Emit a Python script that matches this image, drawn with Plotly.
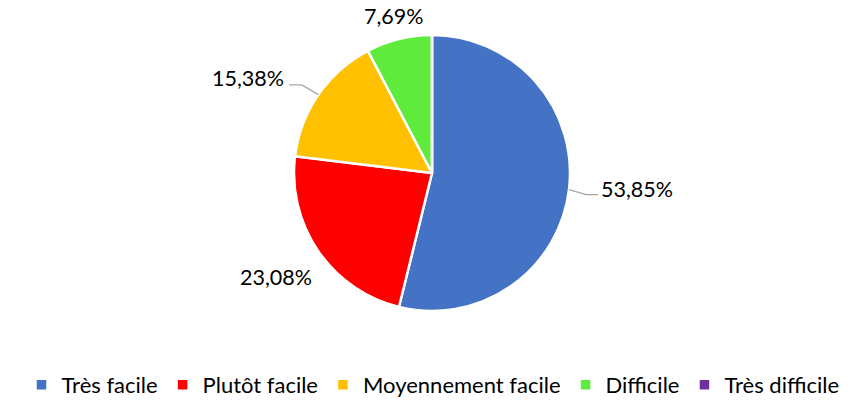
import math
import plotly.graph_objects as go

categories = ["Très facile", "Plutôt facile", "Moyennement facile", "Difficile", "Très difficile"]
values = [53.85, 23.08, 15.38, 7.69, 0.0]
colors = ["#4472C4", "#FF0000", "#FFC000", "#5FEB3B", "#7030A0"]

W, H = 866, 401
CX, CY, R = 432, 173, 138

# label placement offsets (px) from the slice's outer mid point (style only)
label_offset = [(68, -0.5), (-42, 25.5), (-70, -16.5), (-5, -23), (0, -20)]
# leader line offsets (elbow, end) relative to the outer mid point, None = no leader
leader_offset = [((17, 5), (29, 5)), None, ((-16.7, -9.6), (-29.4, -9.6)), None, None]

fig = go.Figure(go.Pie(
    labels=categories, values=values, sort=False, direction="clockwise", rotation=0,
    marker=dict(colors=colors, line=dict(color="white", width=2.5)),
    textinfo="none", hoverinfo="label+percent",
    domain=dict(x=[(CX - R) / W, (CX + R) / W], y=[1 - (CY + R) / H, 1 - (CY - R) / H]),
))

def to_paper(px, py):
    return px / W, 1 - py / H

total = sum(values)
cum = 0.0
annotations = []
shapes = []
for i, v in enumerate(values):
    start = cum
    cum += v
    if v <= 0:
        continue
    mid = math.radians((start + v / 2) / total * 360)
    ex, ey = CX + R * math.sin(mid), CY - R * math.cos(mid)
    ox, oy = label_offset[i]
    txt = f"{v:.2f}%".replace(".", ",")
    x, y = to_paper(ex + ox, ey + oy)
    annotations.append(dict(x=x, y=y, xref="paper", yref="paper", text=txt, showarrow=False,
                            font=dict(family="Lato", size=21.5, color="#000000"),
                            xanchor="center", yanchor="middle"))
    if leader_offset[i]:
        (bx, by), (fx, fy) = leader_offset[i]
        pts = [(ex, ey), (ex + bx, ey + by), (ex + fx, ey + fy)]
        path = "M " + " L ".join(f"{to_paper(px, py)[0]},{to_paper(px, py)[1]}" for px, py in pts)
        shapes.append(dict(type="path", xref="paper", yref="paper", path=path,
                           line=dict(color="#A6A6A6", width=1.3)))

fig.update_layout(
    width=W, height=H,
    margin=dict(l=0, r=0, t=0, b=0, autoexpand=False),
    paper_bgcolor="white", plot_bgcolor="white",
    annotations=annotations, shapes=shapes,
    legend=dict(orientation="h", x=0.5, xanchor="center", y=0.04, yanchor="middle",
                font=dict(family="Lato", size=22, color="#000000"), traceorder="normal"),
    showlegend=True,
)

fig.write_html("out.html", config={"displayModeBar": False},
               post_script="document.body.style.margin='0px';document.body.style.overflow='hidden';")
